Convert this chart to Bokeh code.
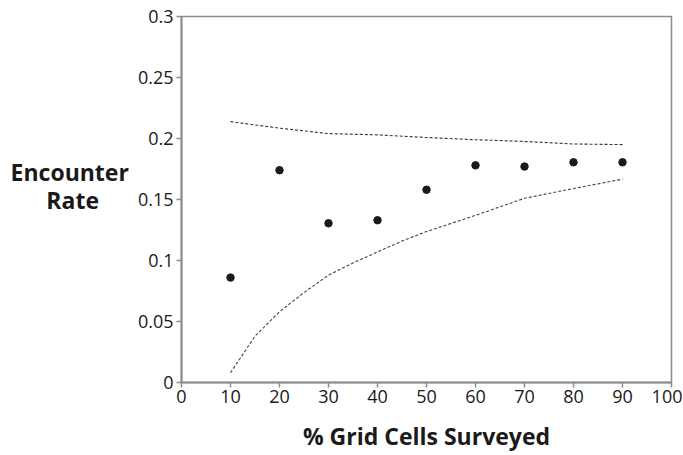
from bokeh.plotting import figure
from bokeh.models import FixedTicker, Range1d
from bokeh.embed import file_html
from bokeh.resources import INLINE

# data
pct = [10, 20, 30, 40, 50, 60, 70, 80, 90]
rate = [0.086, 0.174, 0.1305, 0.133, 0.158, 0.178, 0.177, 0.1805, 0.1805]

upper_x = [10, 20, 30, 40, 50, 60, 70, 80, 90]
upper_y = [0.2138, 0.2085, 0.204, 0.203, 0.2008, 0.199, 0.1976, 0.1955, 0.195]

lower_x = [10, 15, 20, 25, 30, 35, 40, 45, 50, 60, 70, 80, 90]
lower_y = [0.008, 0.038, 0.058, 0.0737, 0.088, 0.098, 0.107, 0.116, 0.1237, 0.137, 0.151, 0.159, 0.1667]

x_ticks = [0, 10, 20, 30, 40, 50, 60, 70, 80, 90, 100]
y_ticks = [0, 0.05, 0.1, 0.15, 0.2, 0.25, 0.3]
y_tick_labels = ["0", "0.05", "0.1", "0.15", "0.2", "0.25", "0.3"]

FONT = "Open Sans"
AX = "#8c8c8c"
NB = "\u00a0"

p = figure(width=682, height=454, output_backend="svg", toolbar_location=None,
           x_range=Range1d(0, 100), y_range=Range1d(0, 0.3),
           min_border_left=181, min_border_right=11, min_border_top=16, min_border_bottom=71)

p.grid.visible = False
p.outline_line_color = AX
p.outline_line_width = 1.5
p.background_fill_color = "white"
p.border_fill_color = "white"

p.line(upper_x, upper_y, line_color="#333333", line_width=1.1, line_dash="3 2")
p.line(lower_x, lower_y, line_color="#444444", line_width=1.1, line_dash="3 2")
p.scatter(pct, rate, size=7.5, fill_color="#1a1a1a", line_color="#1a1a1a")

for ax in (p.xaxis, p.yaxis):
    ax.axis_line_color = AX
    ax.axis_line_width = 2
    ax.major_tick_line_color = AX
    ax.major_tick_line_width = 1.5
    ax.major_tick_out = 5
    ax.major_tick_in = 0
    ax.minor_tick_line_color = None
    ax.major_label_text_font = FONT
    ax.major_label_text_font_size = "18px"
    ax.major_label_text_color = "#1a1a1a"
    ax.axis_label_text_font = FONT
    ax.axis_label_text_font_style = "bold"
    ax.axis_label_text_font_size = "23px"
    ax.axis_label_text_color = "#1a1a1a"

p.xaxis.ticker = FixedTicker(ticks=x_ticks)
p.yaxis.ticker = FixedTicker(ticks=y_ticks)
p.yaxis.major_label_overrides = {t: l for t, l in zip(y_ticks, y_tick_labels)}
p.xaxis.major_label_standoff = 2
p.yaxis.major_label_standoff = 3

p.xaxis.axis_label = "% Grid Cells Surveyed"
p.xaxis.axis_label_standoff = 14
p.yaxis.axis_label = "Encounter\nRate" + NB * 5 + "\n" + NB
p.yaxis.axis_label_orientation = "horizontal"
p.yaxis.axis_label_standoff = 6
p.yaxis.axis_label_text_line_height = 0.85

open("out.html", "w").write(file_html(p, INLINE))
